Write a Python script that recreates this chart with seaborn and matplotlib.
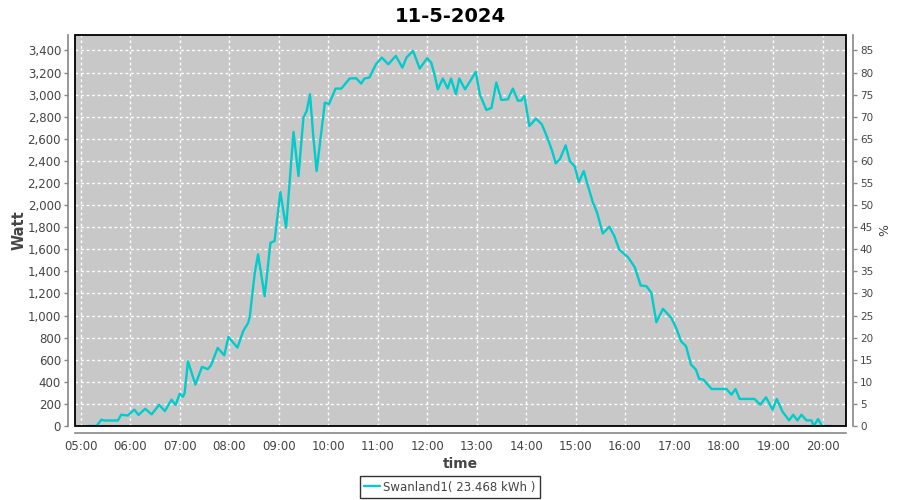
import matplotlib
matplotlib.use("Agg")
import matplotlib.pyplot as plt
import matplotlib.dates as mdates
from matplotlib.patches import Rectangle
from matplotlib.ticker import FuncFormatter, MultipleLocator
import seaborn as sns
import pandas as pd

title = "11-5-2024"
series_name = "Swanland1( 23.468 kWh )"
day = "2024-05-11"

times = ["05:09", "05:19", "05:25", "05:29", "05:45", "05:49", "05:57", "06:05", "06:10", "06:18",
         "06:26", "06:35", "06:42", "06:50", "06:55", "07:00", "07:04", "07:06", "07:10", "07:19",
         "07:27", "07:34", "07:38", "07:46", "07:54", "07:59", "08:10", "08:17", "08:23", "08:25",
         "08:31", "08:35", "08:43", "08:50", "08:55", "09:02", "09:09", "09:18", "09:24", "09:30",
         "09:34", "09:38", "09:42", "09:46", "09:56", "10:01", "10:09", "10:16", "10:26", "10:34",
         "10:40", "10:44", "10:50", "10:58", "11:05", "11:13", "11:22", "11:30", "11:35", "11:43",
         "11:51", "12:00", "12:05", "12:09", "12:13", "12:19", "12:25", "12:29", "12:35", "12:39",
         "12:46", "12:52", "12:59", "13:04", "13:12", "13:18", "13:24", "13:30", "13:38", "13:44",
         "13:50", "13:54", "13:58", "14:04", "14:12", "14:19", "14:25", "14:31", "14:36", "14:41",
         "14:48", "14:53", "14:59", "15:04", "15:10", "15:15", "15:21", "15:26", "15:33", "15:41",
         "15:47", "15:53", "16:04", "16:12", "16:19", "16:26", "16:32", "16:38", "16:46", "16:56",
         "17:02", "17:08", "17:14", "17:20", "17:26", "17:30", "17:35", "17:45", "18:03", "18:09",
         "18:14", "18:19", "18:37", "18:44", "18:51", "18:59", "19:04", "19:11", "19:19", "19:24",
         "19:29", "19:34", "19:40", "19:46", "19:49", "19:54", "19:59", "20:10"]

watts = [0, 0, 57, 50, 50, 102, 95, 148, 100, 156,
         105, 193, 135, 238, 190, 293, 265, 300, 586, 375,
         535, 515, 550, 707, 640, 807, 710, 860, 934, 994,
         1387, 1553, 1175, 1659, 1674, 2118, 1795, 2662, 2263, 2792,
         2852, 3003, 2620, 2308, 2928, 2915, 3055, 3055, 3146, 3149,
         3100, 3146, 3155, 3275, 3336, 3275, 3351, 3245, 3336, 3396,
         3236, 3330, 3290, 3180, 3048, 3146, 3055, 3146, 3003, 3146,
         3048, 3120, 3206, 3000, 2861, 2880, 3110, 2952, 2958, 3055,
         2946, 2946, 2988, 2716, 2783, 2733, 2626, 2505, 2378, 2415,
         2541, 2400, 2350, 2208, 2308, 2175, 2025, 1935, 1743, 1804,
         1720, 1598, 1525, 1435, 1272, 1266, 1205, 939, 1061, 980,
         888, 767, 722, 556, 510, 426, 420, 335, 335, 284,
         335, 245, 245, 193, 260, 148, 245, 130, 51, 102,
         51, 102, 51, 51, 0, 63, 0, 0]

df = pd.DataFrame({"time": pd.to_datetime([f"{day} {t}" for t in times]), "watt": watts})

sns.set_theme(style="white")
plt.rcParams['font.family'] = ['DejaVu Sans']

fig = plt.figure(figsize=(9, 5), dpi=100)
fig.patch.set_facecolor("white")
ax = fig.add_axes([75/900, 74/500, (846-75)/900, (426-35)/500])
ax.set_facecolor("#c8c8c8")

line_color = "#00cccc"
sns.lineplot(data=df, x="time", y="watt", ax=ax, color=line_color, linewidth=1.7,
             label=series_name, legend=False)

ymax = 3540
ax.set_ylim(0, ymax)
ax.set_xlim(pd.Timestamp(f"{day} 04:53"), pd.Timestamp(f"{day} 20:28"))
ax.yaxis.set_major_locator(MultipleLocator(200))
ax.yaxis.set_major_formatter(FuncFormatter(lambda v, p: f"{int(v):,}"))
ax.xaxis.set_major_locator(mdates.HourLocator())
ax.xaxis.set_major_formatter(mdates.DateFormatter("%H:%M"))

ax.grid(True, color="white", linestyle=(0, (2, 2)), linewidth=1)
ax.set_axisbelow(True)

tick_col = "#444444"
axis_col = "#888888"
for s in ["left", "bottom"]:
    ax.spines[s].set_position(("outward", 5))
    ax.spines[s].set_color(axis_col)
    ax.spines[s].set_linewidth(1.2)
ax.spines["top"].set_visible(False)
ax.spines["right"].set_visible(False)
ax.tick_params(axis="both", which="major", direction="out", length=3, width=1,
               color=axis_col, labelcolor=tick_col, labelsize=8.5, pad=2)
ax.add_patch(Rectangle((0, 0), 1, 1, transform=ax.transAxes, fill=False,
                       edgecolor="black", linewidth=1.3, clip_on=False, zorder=5))

ax.set_xlabel("time", fontsize=10, fontweight="bold", color=tick_col, labelpad=3)
ax.set_ylabel("Watt", fontsize=10.5, fontweight="bold", color=tick_col)
ax.yaxis.set_label_coords(-0.0625, 0.5)

ax2 = ax.twinx()
ax2.set_ylim(0, ymax / 40)
ax2.yaxis.set_major_locator(MultipleLocator(5))
ax2.grid(False)
for s in ["left", "top", "bottom"]:
    ax2.spines[s].set_visible(False)
ax2.spines["right"].set_position(("outward", 5))
ax2.spines["right"].set_color(axis_col)
ax2.spines["right"].set_linewidth(1.2)
ax2.tick_params(axis="y", direction="out", length=3, width=1, color=axis_col,
                labelcolor=tick_col, labelsize=7.5, pad=2)
ax2.set_ylabel("%", fontsize=9, color=tick_col, labelpad=4)

fig.suptitle(title, x=0.5, y=0.985, fontsize=14, fontweight="bold", color="black")

handles, labels = ax.get_legend_handles_labels()
leg = fig.legend(handles, labels, loc="center", bbox_to_anchor=(0.5, 0.026), frameon=True,
                 fontsize=8.5, handlelength=1.3, handletextpad=0.3, borderpad=0.35,
                 fancybox=False, edgecolor="black", labelcolor=tick_col)
leg.get_frame().set_linewidth(1)

fig.savefig("out.png", dpi=100, facecolor="white")
